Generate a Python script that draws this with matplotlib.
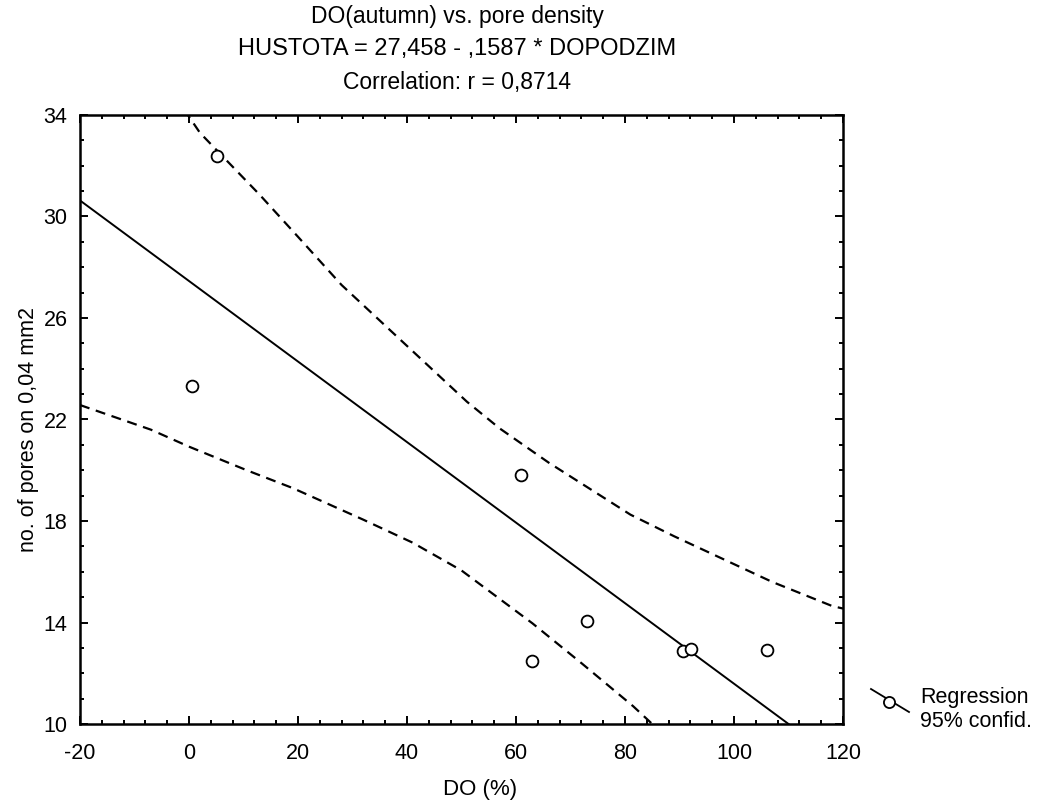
import matplotlib
matplotlib.use("Agg")
import matplotlib.pyplot as plt
from matplotlib.lines import Line2D
from matplotlib.ticker import MultipleLocator, FixedLocator
import numpy as np

plt.rcParams['font.family'] = ['Liberation Sans', 'DejaVu Sans']
plt.rcParams['axes.unicode_minus'] = False

# data
do_pct = [5.1, 0.5, 61.0, 73.1, 63.0, 90.7, 92.1, 106.0]
pores = [32.4, 23.33, 19.8, 14.07, 12.48, 12.88, 12.96, 12.9]

# regression from the title: HUSTOTA = 27,458 - ,1587 * DOPODZIM
intercept = 27.458
slope = -0.1587
line_x = [-20, 120]

# 95% confidence band
upper_x = [-20, -0.2, 2, 13, 20, 28, 39, 51, 57, 66, 81, 89, 107, 118, 120]
upper_y = [38.7, 34.0, 33.3, 30.85, 29.2, 27.3, 25.1, 22.7, 21.65, 20.3, 18.25, 17.4, 15.6, 14.65, 14.55]
lower_x = [-20, -7, 0, 10.6, 19, 32, 41, 50, 63, 72, 81.5, 85, 90]
lower_y = [22.57, 21.6, 20.93, 20.0, 19.3, 18.05, 17.15, 16.05, 13.97, 12.4, 10.7, 10.0, 9.05]

y_ticks = [10, 14, 18, 22, 26, 30, 34]

fig = plt.figure(figsize=(10.41, 8.05), dpi=100)
ax = fig.add_axes([80 / 1041, 1 - 724 / 805, 763 / 1041, 609 / 805])

lx = np.array(line_x)
ax.plot(lx, intercept + slope * lx, color='black', lw=1.4)
ax.plot(upper_x, upper_y, color='black', lw=1.6, dashes=(4.5, 3))
ax.plot(lower_x, lower_y, color='black', lw=1.6, dashes=(4.5, 3))
ax.plot(do_pct, pores, 'o', ms=8.5, mfc='white', mec='black', mew=1.3, clip_on=False, zorder=5)

ax.set_xlim(-20, 120)
ax.set_ylim(10, 34)
ax.xaxis.set_major_locator(MultipleLocator(20))
ax.xaxis.set_minor_locator(MultipleLocator(4))
ax.yaxis.set_major_locator(FixedLocator(y_ticks))
ax.yaxis.set_minor_locator(MultipleLocator(1))
ax.tick_params(which='both', direction='in', top=True, right=True, width=1.4, colors='black')
ax.tick_params(which='major', length=6, labelsize=15.5)
ax.tick_params(axis='x', which='major', pad=14)
ax.tick_params(axis='y', which='major', pad=9)
ax.tick_params(which='minor', length=3)
for s in ax.spines.values():
    s.set_linewidth(1.8)

ax.set_xlabel("DO (%)", fontsize=16, va='center')
ax.xaxis.set_label_coords(0.524, -0.108)
ax.set_ylabel("no. of pores on 0,04 mm2", fontsize=15.5, va='center')
ax.yaxis.set_label_coords(-0.068, 0.483)

cx = 457 / 1041
fig.text(cx, 1 - 16 / 805, "DO(autumn) vs. pore density", ha='center', va='center', fontsize=16.5)
fig.text(cx, 1 - 49 / 805, "HUSTOTA = 27,458 - ,1587 * DOPODZIM", ha='center', va='center', fontsize=17)
fig.text(cx, 1 - 82 / 805, "Correlation: r = 0,8714", ha='center', va='center', fontsize=16.5)

# legend drawn by hand (diagonal key like the original)
fig.add_artist(Line2D([871 / 1041, 909 / 1041], [1 - 689 / 805, 1 - 712 / 805],
                      transform=fig.transFigure, color='black', lw=1.3))
fig.add_artist(Line2D([889 / 1041], [1 - 702 / 805], transform=fig.transFigure,
                      marker='o', ms=8, mfc='white', mec='black', mew=1.3, ls='none'))
fig.text(920 / 1041, 1 - 697 / 805, "Regression", ha='left', va='center', fontsize=15.5)
fig.text(920 / 1041, 1 - 721 / 805, "95% confid.", ha='left', va='center', fontsize=15.5)

fig.savefig("out.png", dpi=100)
